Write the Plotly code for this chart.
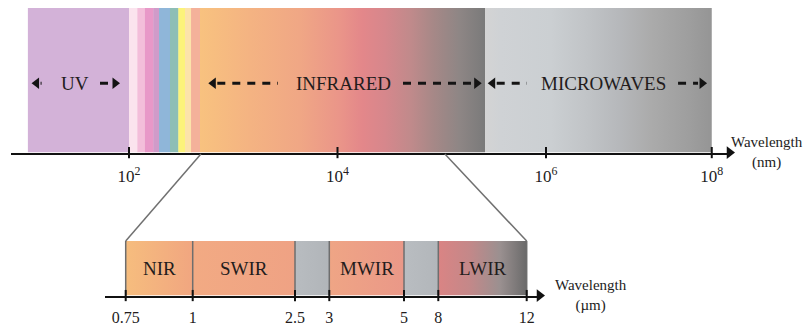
import plotly.graph_objects as go

W, H = 805, 326

# ---------------- data ----------------
# upper schematic axis, in log10(wavelength / nm)
nm_tick_exp = [2, 4, 6, 7.59]
nm_tick_text = ["10<sup>2</sup>", "10<sup>4</sup>", "10<sup>6</sup>", "10<sup>8</sup>"]

uv_band = [1.03, 2.0]
visible_edges = [2.0, 2.08, 2.153, 2.233, 2.288, 2.393, 2.473, 2.537, 2.595, 2.681]
ir_band = [2.681, 5.415]
mw_band = [5.415, 7.59]
band_names = ["UV", "INFRARED", "MICROWAVES"]
band_label_x = [1.48, 4.06, 6.55]

# where 0.75 µm and 12 µm sit on the upper schematic axis
zoom_span_upper = [2.69, 5.03]

# lower schematic axis (µm)
um_tick_text = ["0.75", "1", "2.5", "3", "5", "8", "12"]
um_tick_pos = [20.7, 87.7, 190, 224.3, 299, 333.3, 421.7]
sub_names = ["NIR", "SWIR", "", "MWIR", "", "LWIR"]

# ---------------- styles ----------------
FONT = "Liberation Serif"
TXT = "#231c1c"
ARROW = "#141414"
uv_color = "#D3B2D8"
visible_colors = ["#FBE4EE", "#F3BEDA", "#E898C8", "#D09BC9", "#8FB6D9",
                  "#8EBEB6", "#FCF37A", "#FCE3AA", "#F4B19A"]
ir_scale = [[0, "#F8C27F"], [0.175, "#F4B382"], [0.35, "#F0A785"], [0.49, "#EA9589"],
            [0.57, "#E3878A"], [0.65, "#D6878C"], [0.74, "#C08A8B"], [0.82, "#A68887"],
            [0.91, "#8E8685"], [1, "#7A7A7A"]]
mw_scale = [[0, "#D4D4D4"], [0.07, "#CFD2D5"], [0.29, "#CBCFD2"], [0.46, "#C0C3C6"],
            [0.59, "#B6B8BB"], [0.73, "#ABABAB"], [0.9, "#9E9E9E"], [1, "#959595"]]
sub_scales = [
    [[0, "#F6BD7E"], [1, "#F1A680"]],
    [[0, "#F2AA83"], [1, "#EFA284"]],
    [[0, "#B8BCC0"], [1, "#B1B5B9"]],
    [[0, "#EFA585"], [1, "#EA9888"]],
    [[0, "#B9BDC1"], [1, "#B2B6BA"]],
    [[0, "#DA8484"], [0.35, "#C48889"], [0.7, "#9A9090"], [1, "#6A6A6A"]],
]

# axis geometry (pixels); the arrow tip sits a few px past the axis line end
top_dom_px = (11, 731)
top_y_px = (8, 154)
bot_dom_px = (105, 541)
bot_y_px = (243.3, 298.3)
TIP = 4
px_per_decade = 104.25
top_range = [2 - (129 - top_dom_px[0]) / px_per_decade,
             2 + (top_dom_px[1] - 129) / px_per_decade]
bot_range = [0, bot_dom_px[1] - bot_dom_px[0]]
u_top = (top_range[1] - top_range[0]) / (top_dom_px[1] - top_dom_px[0])
u_bot = (bot_range[1] - bot_range[0]) / (bot_dom_px[1] - bot_dom_px[0])

fig = go.Figure()


def rect(x0, x1, xa, ya, color=None, scale=None):
    kw = dict(x=[x0, x1, x1, x0, x0], y=[0, 0, 1, 1, 0], fill="toself", mode="lines",
              line=dict(width=0, color="rgba(0,0,0,0)"), hoverinfo="skip",
              showlegend=False, xaxis=xa, yaxis=ya)
    if scale is not None:
        kw["fillgradient"] = dict(type="horizontal", colorscale=scale)
    else:
        kw["fillcolor"] = color
    fig.add_trace(go.Scatter(**kw))


def head(xv, yv, direction, xa, ya, u, size=10, color=ARROW):
    # triangle marker whose tip sits at xv
    off = size * 0.5 * u
    xc = xv - off if direction == "right" else xv + off
    fig.add_trace(go.Scatter(x=[xc], y=[yv], mode="markers", cliponaxis=False,
                             marker=dict(symbol="triangle-" + direction, size=size, color=color,
                                         line=dict(width=0)),
                             hoverinfo="skip", showlegend=False, xaxis=xa, yaxis=ya))


# upper spectrum bar
rect(uv_band[0], uv_band[1], "x", "y", color=uv_color)
for i, c in enumerate(visible_colors):
    rect(visible_edges[i], visible_edges[i + 1] + 0.004, "x", "y", color=c)
rect(ir_band[0], ir_band[1], "x", "y", scale=ir_scale)
rect(mw_band[0], mw_band[1], "x", "y", scale=mw_scale)

# lower sub-band bar
for i, sc in enumerate(sub_scales):
    rect(um_tick_pos[i], um_tick_pos[i + 1], "x2", "y2", scale=sc)

# dividers in lower bar
dx, dy = [], []
for p in um_tick_pos:
    dx += [p, p, None]
    dy += [0, 1, None]
fig.add_trace(go.Scatter(x=dx, y=dy, mode="lines", line=dict(color="#6E6E6E", width=1.5),
                         hoverinfo="skip", showlegend=False, xaxis="x2", yaxis="y2"))

# tick marks crossing the axis lines
fig.add_trace(go.Scatter(x=nm_tick_exp, y=[0] * len(nm_tick_exp), mode="markers",
                         marker=dict(symbol="line-ns", size=8, line=dict(width=2, color="#111")),
                         cliponaxis=False, hoverinfo="skip", showlegend=False, xaxis="x", yaxis="y"))
fig.add_trace(go.Scatter(x=um_tick_pos, y=[0] * len(um_tick_pos), mode="markers",
                         marker=dict(symbol="line-ns", size=8, line=dict(width=2, color="#111")),
                         cliponaxis=False, hoverinfo="skip", showlegend=False, xaxis="x2", yaxis="y2"))

# band labels
annotations = []
for name, xl in zip(band_names, band_label_x):
    annotations.append(dict(x=xl, y=0.48, xref="x", yref="y", text=name, showarrow=False,
                            font=dict(family=FONT, size=19, color=TXT)))

for i, name in enumerate(sub_names):
    if name:
        annotations.append(dict(x=(um_tick_pos[i] + um_tick_pos[i + 1]) / 2, y=0.5,
                                xref="x2", yref="y2", text=name, showarrow=False,
                                font=dict(family=FONT, size=19, color=TXT)))

# dashed double arrows around band labels (offsets in px from band edges)
bands = [uv_band, ir_band, mw_band]
arrow_px = [((3.7, 13.7), (29, 9)), ((8.3, 78), (82, 3.3)), ((2.7, 42), (33.7, 4.7))]
AY = 0.48
HEAD = 10
for (b0, b1), ((ltip, ltail), (rtail, rtip)) in zip(bands, arrow_px):
    # left-pointing
    tip = b0 + ltip * u_top
    tail = b0 + ltail * u_top
    fig.add_trace(go.Scatter(x=[tip + (HEAD - 1) * u_top, tail], y=[AY, AY], mode="lines",
                             line=dict(color=ARROW, width=3, dash="8px,7px"),
                             hoverinfo="skip", showlegend=False, xaxis="x", yaxis="y"))
    head(tip, AY, "left", "x", "y", u_top, size=HEAD)
    # right-pointing
    tip = b1 - rtip * u_top
    tail = b1 - rtail * u_top
    fig.add_trace(go.Scatter(x=[tail, tip - (HEAD - 1) * u_top], y=[AY, AY], mode="lines",
                             line=dict(color=ARROW, width=3, dash="8px,7px"),
                             hoverinfo="skip", showlegend=False, xaxis="x", yaxis="y"))
    head(tip, AY, "right", "x", "y", u_top, size=HEAD)

# axis arrowheads (tip a few px past the end of each axis line)
head(top_range[1] + TIP * u_top, 0, "right", "x", "y", u_top, size=11, color="#111")
head(bot_range[1] + TIP * u_bot, 0, "right", "x2", "y2", u_bot, size=11, color="#111")

# axis titles (anchored at the axis end, shifted right in px)
annotations.append(dict(x=top_range[1], y=0, xref="x", yref="y", xshift=36, yshift=0,
                        text="Wavelength<br>(nm)", showarrow=False, align="center",
                        font=dict(family=FONT, size=15, color=TXT)))
annotations.append(dict(x=bot_range[1], y=0, xref="x2", yref="y2", xshift=50, yshift=0,
                        text="Wavelength<br>(µm)", showarrow=False, align="center",
                        font=dict(family=FONT, size=15, color=TXT)))


# connector lines (data -> paper through the axis layouts)
def top_to_paper(xv, yv):
    fx = (xv - top_range[0]) / (top_range[1] - top_range[0])
    px = top_dom_px[0] + fx * (top_dom_px[1] - top_dom_px[0])
    py = top_y_px[1] - yv * (top_y_px[1] - top_y_px[0])
    return px / W, 1 - py / H


def bot_to_paper(xv, yv):
    fx = (xv - bot_range[0]) / (bot_range[1] - bot_range[0])
    px = bot_dom_px[0] + fx * (bot_dom_px[1] - bot_dom_px[0])
    py = bot_y_px[1] - yv * (bot_y_px[1] - bot_y_px[0])
    return px / W, 1 - py / H


shapes = []
for xu, xb in zip(zoom_span_upper, [um_tick_pos[0], um_tick_pos[-1]]):
    x0p, y0p = top_to_paper(xu, 0)
    x1p, y1p = bot_to_paper(xb, 1)
    shapes.append(dict(type="line", xref="paper", yref="paper", x0=x0p, y0=y0p - 1.5 / H,
                       x1=x1p, y1=y1p, line=dict(color="#707070", width=1.5)))

fig.update_layout(
    width=W, height=H, margin=dict(l=0, r=0, t=0, b=0),
    paper_bgcolor="white", plot_bgcolor="rgba(0,0,0,0)",
    showlegend=False, annotations=annotations, shapes=shapes,
    xaxis=dict(domain=[top_dom_px[0] / W, top_dom_px[1] / W], range=top_range,
               anchor="y", showline=True, linecolor="#111", linewidth=2,
               showgrid=False, zeroline=False, ticks="", tickvals=nm_tick_exp,
               ticktext=nm_tick_text, ticklabelstandoff=7,
               tickfont=dict(family=FONT, size=17, color=TXT), fixedrange=True),
    yaxis=dict(domain=[1 - top_y_px[1] / H, 1 - top_y_px[0] / H], range=[0, 1],
               anchor="x", visible=False, fixedrange=True),
    xaxis2=dict(domain=[bot_dom_px[0] / W, bot_dom_px[1] / W], range=bot_range,
                anchor="y2", showline=True, linecolor="#111", linewidth=2,
                showgrid=False, zeroline=False, ticks="", tickvals=um_tick_pos,
                ticktext=um_tick_text, ticklabelstandoff=6,
                tickfont=dict(family=FONT, size=16, color=TXT), fixedrange=True),
    yaxis2=dict(domain=[1 - bot_y_px[1] / H, 1 - bot_y_px[0] / H], range=[0, 1],
                anchor="x2", visible=False, fixedrange=True),
)

fig.write_html("out.html")
